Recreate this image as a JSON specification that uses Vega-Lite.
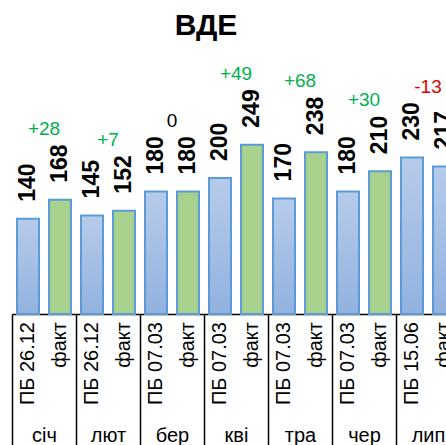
{
  "$schema": "https://vega.github.io/schema/vega-lite/v6.json",
  "autosize": "none",
  "width": 434,
  "height": 204,
  "padding": {"left": 12, "top": 110, "right": 0, "bottom": 131},
  "background": "white",
  "config": {"view": {"stroke": null}, "font": "Liberation Sans"},
  "title": {"text": "ВДЕ", "fontSize": 30, "fontWeight": "bold", "font": "Liberation Sans", "color": "black", "anchor": "middle", "frame": "group", "dx": -23, "offset": 24},
  "data": {"values": [
    {"month": "січ", "series": "ПБ", "label": "ПБ 26.12", "value": 140},
    {"month": "січ", "series": "факт", "label": "факт", "value": 168, "diff": "+28"},
    {"month": "лют", "series": "ПБ", "label": "ПБ 26.12", "value": 145},
    {"month": "лют", "series": "факт", "label": "факт", "value": 152, "diff": "+7"},
    {"month": "бер", "series": "ПБ", "label": "ПБ 07.03", "value": 180},
    {"month": "бер", "series": "факт", "label": "факт", "value": 180, "diff": "0"},
    {"month": "кві", "series": "ПБ", "label": "ПБ 07.03", "value": 200},
    {"month": "кві", "series": "факт", "label": "факт", "value": 249, "diff": "+49"},
    {"month": "тра", "series": "ПБ", "label": "ПБ 07.03", "value": 170},
    {"month": "тра", "series": "факт", "label": "факт", "value": 238, "diff": "+68"},
    {"month": "чер", "series": "ПБ", "label": "ПБ 07.03", "value": 180},
    {"month": "чер", "series": "факт", "label": "факт", "value": 210, "diff": "+30"},
    {"month": "лип", "series": "ПБ", "label": "ПБ 15.06", "value": 230},
    {"month": "лип", "series": "факт", "label": "факт", "value": 217, "diff": "-13"}
  ]},
  "encoding": {
    "x": {
      "field": "month", "type": "nominal",
      "sort": ["січ", "лют", "бер", "кві", "тра", "чер", "лип"],
      "scale": {"domain": ["січ", "лют", "бер", "кві", "тра", "чер", "лип"], "paddingInner": 0, "paddingOuter": 0, "range": [0, 448]},
      "axis": {"title": null, "orient": "bottom", "tickBand": "extent", "tickSize": 135, "tickColor": "black", "tickWidth": 1.5, "domainColor": "black", "domainWidth": 1.5, "labelFontSize": 20, "labelColor": "black", "labelFont": "Liberation Sans", "labelBaseline": "alphabetic", "labelPadding": -8, "labelAngle": 0}
    }
  },
  "layer": [
    {
      "transform": [{"filter": "datum.series == 'ПБ' || datum.month == 'лип'"}],
      "mark": {"type": "bar", "stroke": "#5b9bd5", "strokeWidth": 2, "fill": {"gradient": "linear", "x1": 0, "y1": 0, "x2": 0, "y2": 1, "stops": [{"offset": 0, "color": "#b6cbea"}, {"offset": 1, "color": "#91b2df"}]}},
      "encoding": {
        "xOffset": {"field": "series", "type": "nominal", "scale": {"domain": ["ПБ", "факт"], "paddingInner": 0.3125, "paddingOuter": 0.15625}},
        "y": {"field": "value", "type": "quantitative", "scale": {"domain": [0, 300]}, "axis": null}
      }
    },
    {
      "transform": [{"filter": "datum.series == 'факт' && datum.month != 'лип'"}],
      "mark": {"type": "bar", "stroke": "#5b9bd5", "strokeWidth": 2, "fill": "#a9d18e"},
      "encoding": {
        "xOffset": {"field": "series", "type": "nominal", "scale": {"domain": ["ПБ", "факт"], "paddingInner": 0.3125, "paddingOuter": 0.15625}},
        "y": {"field": "value", "type": "quantitative", "scale": {"domain": [0, 300]}, "axis": null}
      }
    },
    {
      "mark": {"type": "text", "angle": -90, "align": "left", "baseline": "middle", "dx": 17, "fontSize": 23, "fontWeight": "bold", "font": "Liberation Sans", "color": "black"},
      "encoding": {
        "xOffset": {"field": "series", "type": "nominal", "scale": {"domain": ["ПБ", "факт"], "paddingInner": 0.3125, "paddingOuter": 0.15625}},
        "y": {"field": "value", "type": "quantitative"},
        "text": {"field": "value", "type": "quantitative"}
      }
    },
    {
      "mark": {"type": "text", "angle": -90, "align": "right", "baseline": "middle", "dx": -8, "fontSize": 20, "font": "Liberation Sans", "color": "black"},
      "encoding": {
        "xOffset": {"field": "series", "type": "nominal", "scale": {"domain": ["ПБ", "факт"], "paddingInner": 0.3125, "paddingOuter": 0.15625}},
        "y": {"datum": 0},
        "text": {"field": "label", "type": "nominal"}
      }
    },
    {
      "transform": [
        {"joinaggregate": [{"op": "max", "field": "value", "as": "top"}], "groupby": ["month"]},
        {"filter": "datum.series == 'факт'"}
      ],
      "mark": {"type": "text", "align": "center", "baseline": "middle", "dy": -71, "fontSize": 19, "font": "Liberation Sans"},
      "encoding": {
        "y": {"field": "top", "type": "quantitative"},
        "text": {"field": "diff", "type": "nominal"},
        "color": {"condition": [{"test": "indexof(datum.diff,'+')==0", "value": "#00b050"}, {"test": "indexof(datum.diff,'-')==0", "value": "#e00000"}], "value": "black"}
      }
    }
  ]
}
